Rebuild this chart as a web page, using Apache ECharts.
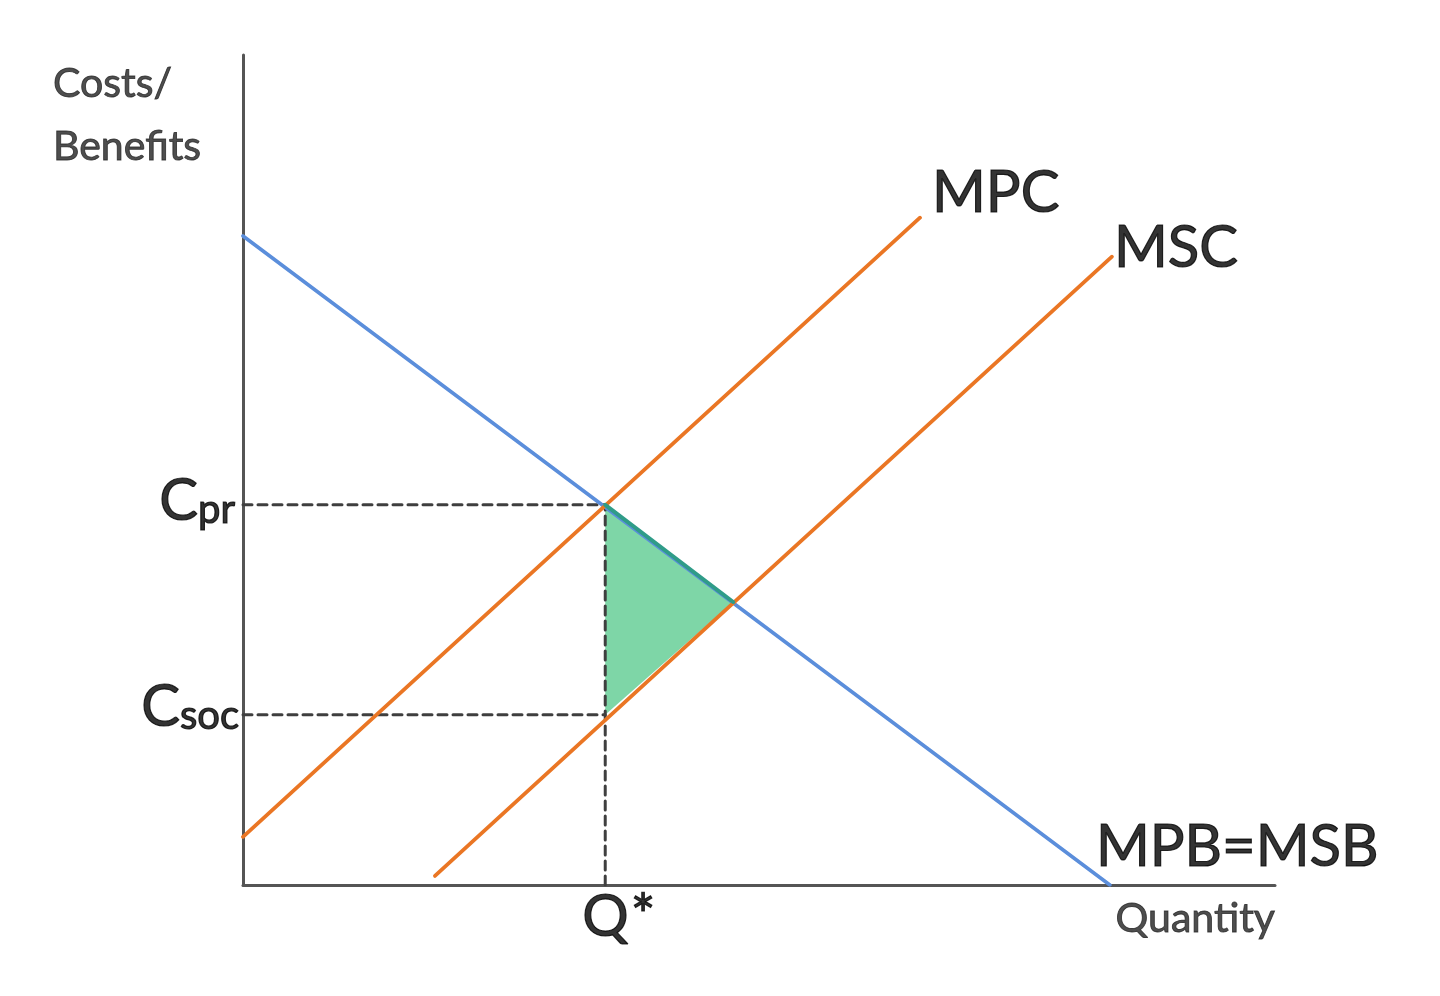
<!DOCTYPE html>
<html>
<head>
<meta charset="utf-8">
<script src="https://cdn.jsdelivr.net/npm/echarts@6/dist/echarts.min.js"></script>
<style>
html,body{margin:0;padding:0;background:#fff;}
#chart{width:1440px;height:996px;}
</style>
</head>
<body>
<div id="chart"></div>
<script>
// ---- data (chart units, 0..100 on both axes) ----
const mpbLine = [[0, 78.2], [84, 0]];          // MPB = MSB (demand)
const mpcLine = [[0, 5.8], [65.6, 80.4]];      // MPC
const mscLine = [[18.6, 1.1], [84.2, 75.7]];   // MSC
const qStar = 35.1;
const cPr = 45.8;
const cSoc = 20.5;
const welfareTriangle = [[35.1, 45.8], [47.5, 34.1], [35.1, 20.5]];
const welfareTopEdge = [[35.1, 45.8], [47.5, 34.1]];
const cprGuide = [[0, cPr], [qStar, cPr]];
const csocGuide = [[0, cSoc], [qStar, cSoc]];
const qGuide = [[qStar, 0], [qStar, cPr]];

const FONT = 'Lato, "Open Sans", sans-serif';
const ORANGE = '#EA7624';
const BLUE = '#5B8EDB';
const GREEN = '#7ED6A7';
const DASH = '#3f3f3f';
const INK = '#000000';
const BORDER = {textBorderColor: '#000000', textBorderWidth: 1.2};
const SMALL_BORDER = {textBorderColor: '#222222', textBorderWidth: 0.9};

const chart = echarts.init(document.getElementById('chart'), null, {renderer: 'canvas'});

function lineSeries(data, color, width, z, dashed) {
  return {
    type: 'line', data: data, symbol: 'none', z: z, silent: true,
    lineStyle: {color: color, width: width, type: dashed ? [9, 6] : 'solid', cap: 'round'},
    animation: false
  };
}

function labelPoint(coord, text, lab) {
  return {
    value: coord,
    label: Object.assign({show: true, formatter: text, fontFamily: FONT, color: INK}, BORDER, lab)
  };
}

const subRich = {
  c: Object.assign({fontSize: 58, fontFamily: FONT, color: INK, verticalAlign: 'bottom'}, BORDER),
  s: Object.assign({fontSize: 40, fontFamily: FONT, color: INK, verticalAlign: 'bottom', padding: [18, 0, 0, 0]}, BORDER)
};

const labels = [
  labelPoint([0, 100], 'Costs/\nBenefits', Object.assign({position: 'inside', align: 'left', verticalAlign: 'top', offset: [-190, -3], fontSize: 41, lineHeight: 63, color: '#222222'}, SMALL_BORDER)),
  labelPoint([100, 0], 'Quantity', Object.assign({position: 'inside', align: 'right', verticalAlign: 'middle', offset: [0, 34], fontSize: 41, color: '#222222'}, SMALL_BORDER)),
  labelPoint(mpcLine[1], 'MPC', {position: 'inside', align: 'left', verticalAlign: 'middle', offset: [12, -24], fontSize: 58}),
  labelPoint(mscLine[1], 'MSC', {position: 'inside', align: 'left', verticalAlign: 'middle', offset: [2, -8], fontSize: 58}),
  labelPoint(mpbLine[1], 'MPB=MSB', {position: 'inside', align: 'left', verticalAlign: 'middle', offset: [-14, -38], fontSize: 58}),
  labelPoint([qStar, 0], '{q|Q}{a|*}', {position: 'inside', align: 'left', verticalAlign: 'middle', offset: [-23, 32],
    rich: {q: Object.assign({fontSize: 58, fontFamily: FONT, color: INK, verticalAlign: 'top'}, BORDER), a: Object.assign({fontSize: 58, fontFamily: FONT, color: INK, verticalAlign: 'top', padding: [0, 0, 0, 2]}, BORDER)}}),
  labelPoint([0, cPr], '{c|C}{s|pr}', {position: 'inside', align: 'right', verticalAlign: 'middle', offset: [-8, -4], rich: subRich}),
  labelPoint([0, cSoc], '{c|C}{s|soc}', {position: 'inside', align: 'right', verticalAlign: 'middle', offset: [-4, -8], rich: subRich})
];

const option = {
  backgroundColor: '#ffffff',
  animation: false,
  grid: {left: 243, top: 55, width: 1032, height: 830, containLabel: false},
  xAxis: {
    type: 'value', min: 0, max: 100,
    axisLine: {show: true, onZero: false, lineStyle: {color: '#555555', width: 3}},
    axisTick: {show: false}, axisLabel: {show: false}, splitLine: {show: false}
  },
  yAxis: {
    type: 'value', min: 0, max: 100,
    axisLine: {show: true, onZero: false, lineStyle: {color: '#555555', width: 3}},
    axisTick: {show: false}, axisLabel: {show: false}, splitLine: {show: false}
  },
  series: [
    {
      type: 'custom', z: 1, silent: true,
      data: welfareTriangle,
      renderItem: function (params, api) {
        if (params.dataIndex !== 0) return null;
        const pts = welfareTriangle.map(p => api.coord(p));
        return {type: 'polygon', shape: {points: pts}, style: {fill: GREEN}};
      }
    },
    lineSeries(cprGuide, DASH, 3, 2, true),
    lineSeries(csocGuide, DASH, 3, 2, true),
    lineSeries(qGuide, DASH, 3, 2, true),
    lineSeries(mpbLine, BLUE, 3.6, 3, false),
    lineSeries(mpcLine, ORANGE, 3.8, 3, false),
    lineSeries(mscLine, ORANGE, 3.8, 3, false),
    lineSeries(welfareTopEdge, '#2F9C88', 4, 4, false),
    {
      type: 'scatter', z: 5, silent: true, symbolSize: 1,
      itemStyle: {color: 'rgba(0,0,0,0)'},
      data: labels
    }
  ]
};
chart.setOption(option);
</script>
</body>
</html>
